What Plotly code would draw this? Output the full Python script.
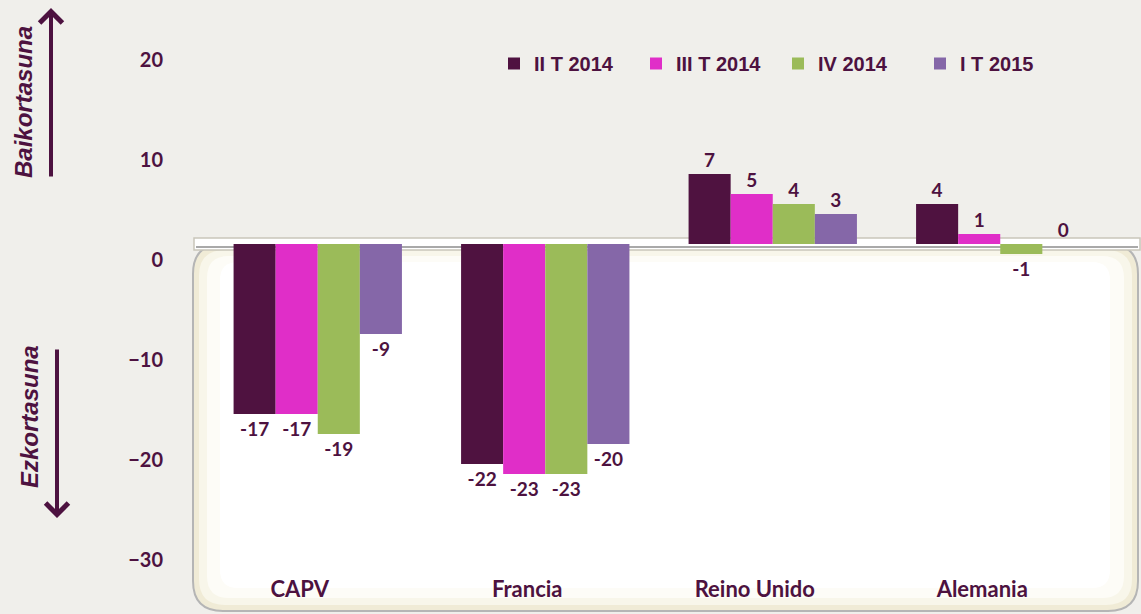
import plotly.graph_objects as go

categories = ["CAPV", "Francia", "Reino Unido", "Alemania"]
series_names = ["II T 2014", "III T 2014", "IV 2014", "I T 2015"]
ii_t_2014 = [-17, -22, 7, 4]
iii_t_2014 = [-17, -23, 5, 1]
iv_2014 = [-19, -23, 4, -1]
i_t_2015 = [-9, -20, 3, 0]
colors = ["#4f1240", "#e02ec8", "#9bbb59", "#8567a8"]
y_ticks = [20, 10, 0, -10, -20, -30]

W, H = 1141, 614
L, R, T, B = 204, 27, 0, 40
PW, PH = W - L - R, H - T - B


def px_x(p):
    return (p - L) / PW


def px_y(p):
    return (H - B - p) / PH


TXT = "#4d1240"
fig = go.Figure()
for name, vals, col in zip(series_names, [ii_t_2014, iii_t_2014, iv_2014, i_t_2015], colors):
    fig.add_trace(go.Bar(
        x=categories, y=vals, name=name, marker_color=col,
        marker_line_width=0,
        text=[str(v) for v in vals], textposition="outside",
        textfont=dict(family="Lato", size=19, color=TXT, weight="bold"),
        constraintext="none", cliponaxis=False,
    ))


def rounded(x0, y0, x1, y1, r):
    rx = r / PW
    ry = r / PH
    a0, b0, a1, b1 = px_x(x0), px_y(y0), px_x(x1), px_y(y1)
    return (f"M{a0+rx},{b0} L{a1-rx},{b0} Q{a1},{b0} {a1},{b0-ry} "
            f"L{a1},{b1+ry} Q{a1},{b1} {a1-rx},{b1} L{a0+rx},{b1} "
            f"Q{a0},{b1} {a0},{b1+ry} L{a0},{b0-ry} Q{a0},{b0} {a0+rx},{b0} Z")


shapes = [
    dict(type="path", xref="paper", yref="paper", layer="below",
         path=rounded(193, 244, 1138, 611, 30), fillcolor="#f0ebd6",
         line=dict(color="#b5b5b5", width=2)),
    dict(type="path", xref="paper", yref="paper", layer="below",
         path=rounded(199, 250, 1132, 605, 26), fillcolor="#f8f6ea",
         line=dict(width=0)),
    dict(type="path", xref="paper", yref="paper", layer="below",
         path=rounded(207, 256, 1124, 598, 22), fillcolor="#fdfcf7",
         line=dict(width=0)),
    dict(type="path", xref="paper", yref="paper", layer="below",
         path=rounded(220, 262, 1110, 588, 18), fillcolor="#ffffff",
         line=dict(width=0)),
    dict(type="rect", xref="paper", yref="paper", layer="below",
         x0=px_x(194), x1=px_x(1140), y0=px_y(238), y1=px_y(250),
         fillcolor="#ffffff", line=dict(color="#c9c6bb", width=1.5)),
    dict(type="line", xref="paper", yref="paper", layer="below",
         x0=px_x(196), x1=px_x(1138), y0=px_y(247), y1=px_y(247),
         line=dict(color="#a9a9a9", width=2)),
]

annotations = [
    dict(xref="paper", yref="paper", x=px_x(51), y=px_y(8), ax=0, ay=170,
         text="", showarrow=True, arrowhead=4, arrowsize=1.1, arrowwidth=4,
         arrowcolor=TXT),
    dict(xref="paper", yref="paper", x=px_x(57), y=px_y(518), ax=0, ay=-170,
         text="", showarrow=True, arrowhead=4, arrowsize=1.1, arrowwidth=4,
         arrowcolor=TXT),
    dict(xref="paper", yref="paper", x=px_x(24), y=px_y(102), text="<b><i>Baikortasuna</i></b>",
         showarrow=False, textangle=-90, xanchor="center", yanchor="middle",
         font=dict(family="Liberation Sans", size=24, color=TXT)),
    dict(xref="paper", yref="paper", x=px_x(29), y=px_y(417), text="<b><i>Ezkortasuna</i></b>",
         showarrow=False, textangle=-90, xanchor="center", yanchor="middle",
         font=dict(family="Liberation Sans", size=24, color=TXT)),
]

fig.update_layout(
    width=W, height=H,
    margin=dict(l=L, r=R, t=T, b=B),
    paper_bgcolor="#f0efeb", plot_bgcolor="rgba(0,0,0,0)",
    barmode="group", bargap=0.26, bargroupgap=0,
    shapes=shapes, annotations=annotations,
    showlegend=True,
    legend=dict(orientation="h", xanchor="left", yanchor="top",
                x=px_x(494), y=px_y(44), entrywidth=97,
                font=dict(family="Liberation Sans", size=20, color=TXT, weight="bold"),
                bgcolor="rgba(0,0,0,0)"),
    xaxis=dict(showgrid=False, zeroline=False, showline=False, ticks="",
               tickfont=dict(family="Lato", size=22, color=TXT, weight="bold"),
               ticklabelshift=-18),
    yaxis=dict(range=[-33.0, 24.4], tickvals=y_ticks, showgrid=False,
               zeroline=False, showline=False, ticks="",
               tickfont=dict(family="Lato", size=20, color=TXT, weight="bold"),
               ticklabelstandoff=40, ticklabelshift=16),
)

fig.write_html("out.html", config={"displayModeBar": False},
               post_script="document.body.style.margin='0px';")
